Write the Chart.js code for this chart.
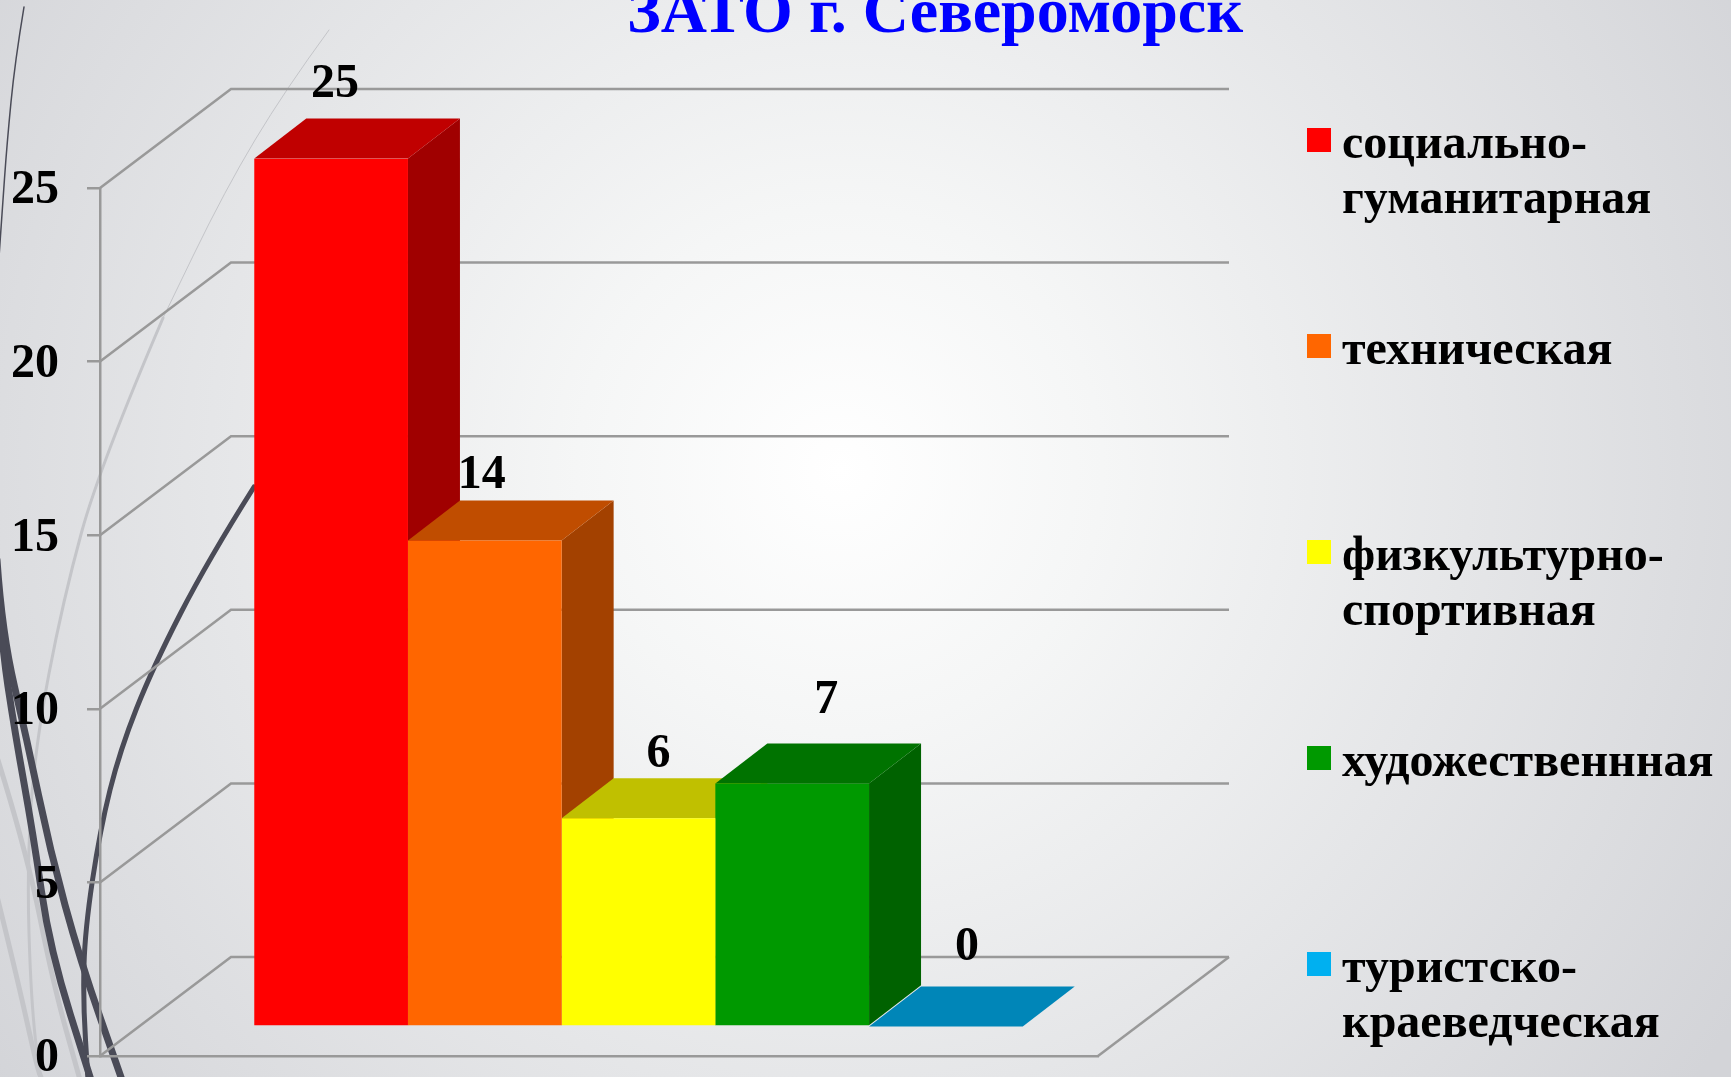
<!DOCTYPE html>
<html lang="ru">
<head>
<meta charset="utf-8">
<title>ЗАТО г. Североморск</title>
<script src="https://cdn.jsdelivr.net/npm/chart.js@4/dist/chart.umd.min.js"></script>
<style>
  html, body { margin: 0; padding: 0; overflow: hidden; background: #e6e7e9; }
  canvas { display: block; }
</style>
</head>
<body>
<canvas id="chart" width="1731" height="1077"></canvas>
<script>
const chartTitle = "ЗАТО г. Североморск";
const categories = ["социально-гуманитарная", "техническая", "физкультурно-спортивная", "художественнная", "туристско-краеведческая"];
const legendLines = [["социально-", "гуманитарная"], ["техническая"], ["физкультурно-", "спортивная"], ["художественнная"], ["туристско-", "краеведческая"]];
const values = [25, 14, 6, 7, 0];
const yTicks = [0, 5, 10, 15, 20, 25];

const frontColors = ["#ff0000", "#ff6600", "#ffff00", "#009900", "#00b0f0"];
const topColors = ["#c00000", "#c04d00", "#c0c000", "#007300", "#0086b8"];
const sideColors = ["#a00000", "#a34100", "#a3a300", "#006200", "#0070a0"];

// the value labels were moved by hand in the original slide
const labelNudgeX = [4, -3, 20, 34, 21];
const labelNudgeY = [-74, -65, -64, -83, -79];

const serif = "'Liberation Serif', 'Times New Roman', serif";
const labelFont = "bold 48px " + serif;

// 3d look: floor depth and bar depth, bars stand in the middle of the floor
const floorDepth = { x: 131, y: -99 };
const barDepth = { x: 52, y: -40 };
const barShift = { x: 39.5, y: -29.5 };

// background wisps of the slide theme
const wisps = [
  { color: "#4a4b57", width: 1.5, pts: [[24, 7], [15, 61], [7, 143], [2, 214], [-4, 300]] },
  { color: "#c4c5c9", width: 1, pts: [[329, 30], [285, 90], [225, 190], [163, 318]] },
  { color: "#c4c5c9", width: 3, pts: [[163, 318], [100, 465], [63, 600], [35, 747], [27, 867], [31, 1000], [40, 1080]] },
  { color: "#c4c5c9", width: 5, pts: [[-2, 760], [27, 853], [53, 983], [80, 1080]] },
  { color: "#c4c5c9", width: 5, pts: [[-2, 900], [17, 977], [37, 1067], [42, 1080]] },
  { color: "#4a4b57", width: 5, pts: [[254, 487], [208, 560], [153, 667], [120, 750], [100, 830], [85, 930], [83, 1000], [88, 1080]] },
  { color: "#4a4b57", width: 7, pts: [[-3, 560], [2, 633], [27, 740], [50, 850], [80, 960], [122, 1080]] },
  { color: "#4a4b57", width: 7, pts: [[-3, 570], [1, 640], [15, 733], [33, 833], [50, 950], [91, 1080]] }
];

function smoothLine(ctx, pts) {
  ctx.beginPath();
  ctx.moveTo(pts[0][0], pts[0][1]);
  for (let i = 1; i < pts.length - 1; i++) {
    const mx = (pts[i][0] + pts[i + 1][0]) / 2;
    const my = (pts[i][1] + pts[i + 1][1]) / 2;
    ctx.quadraticCurveTo(pts[i][0], pts[i][1], mx, my);
  }
  const last = pts[pts.length - 1];
  ctx.lineTo(last[0], last[1]);
  ctx.stroke();
}

function polygon(ctx, color, pts) {
  ctx.fillStyle = color;
  ctx.beginPath();
  pts.forEach((p, i) => (i ? ctx.lineTo(p[0], p[1]) : ctx.moveTo(p[0], p[1])));
  ctx.closePath();
  ctx.fill();
}

const slidePlugin = {
  id: "slide",
  beforeDraw(chart) {
    const ctx = chart.ctx;
    const bg = ctx.createRadialGradient(840, 470, 0, 840, 470, 1050);
    bg.addColorStop(0, "#ffffff");
    bg.addColorStop(0.25, "#f5f6f6");
    bg.addColorStop(0.6, "#e5e6e8");
    bg.addColorStop(1, "#d3d4d8");
    ctx.fillStyle = bg;
    ctx.fillRect(0, 0, chart.width, chart.height);
    ctx.save();
    ctx.lineCap = "round";
    wisps.forEach(w => {
      ctx.strokeStyle = w.color;
      ctx.lineWidth = w.width;
      smoothLine(ctx, w.pts);
    });
    ctx.restore();
  },
  beforeDatasetsDraw(chart) {
    const ctx = chart.ctx;
    const area = chart.chartArea;
    const y = chart.scales.y;

    // walls and floor
    ctx.save();
    ctx.strokeStyle = "#999999";
    ctx.lineWidth = 2.5;
    yTicks.forEach(v => {
      const py = y.getPixelForValue(v);
      ctx.beginPath();
      ctx.moveTo(area.left, py);
      ctx.lineTo(area.left + floorDepth.x, py + floorDepth.y);
      ctx.lineTo(area.right + floorDepth.x, py + floorDepth.y);
      ctx.stroke();
    });
    ctx.beginPath();
    ctx.moveTo(area.right, area.bottom);
    ctx.lineTo(area.right + floorDepth.x, area.bottom + floorDepth.y);
    ctx.stroke();
    ctx.restore();

    // the library then draws the bar fronts inside this shift
    ctx.save();
    ctx.translate(barShift.x, barShift.y);
    chart.data.datasets.forEach((ds, i) => {
      const bar = chart.getDatasetMeta(i).data[0];
      const l = bar.x - bar.width / 2;
      const r = bar.x + bar.width / 2;
      const dx = barDepth.x, dy = barDepth.y;
      polygon(ctx, sideColors[i], [[r, bar.y], [r + dx, bar.y + dy], [r + dx, bar.base + dy], [r, bar.base]]);
      polygon(ctx, topColors[i], [[l, bar.y], [l + dx, bar.y + dy], [r + dx, bar.y + dy], [r, bar.y]]);
    });
  },
  afterDatasetsDraw(chart) {
    const ctx = chart.ctx;
    ctx.restore();

    // value labels
    ctx.save();
    ctx.font = labelFont;
    ctx.fillStyle = "#000000";
    ctx.textAlign = "center";
    ctx.textBaseline = "middle";
    chart.data.datasets.forEach((ds, i) => {
      const bar = chart.getDatasetMeta(i).data[0];
      const px = bar.x + barShift.x + labelNudgeX[i];
      const py = bar.y + barShift.y + labelNudgeY[i];
      ctx.fillText(String(ds.data[0]), px, py);
    });
    ctx.restore();
  },
  afterDraw(chart) {
    const ctx = chart.ctx;
    ctx.save();

    ctx.fillStyle = "#0000ff";
    ctx.font = "bold 64px " + serif;
    ctx.textAlign = "center";
    ctx.textBaseline = "alphabetic";
    ctx.fillText(chartTitle, 935, 32);

    // legend, same step for one line and two line entries
    ctx.textAlign = "left";
    ctx.font = "bold 48px " + serif;
    legendLines.forEach((lines, i) => {
      const top = 128 + i * 206;
      ctx.fillStyle = frontColors[i];
      ctx.fillRect(1307, top, 24, 24);
      ctx.fillStyle = "#000000";
      lines.forEach((line, j) => ctx.fillText(line, 1342, top + 30 + j * 55));
    });
    ctx.restore();
  }
};

new Chart(document.getElementById("chart"), {
  type: "bar",
  data: {
    labels: [""],
    datasets: categories.map((name, i) => ({
      label: name,
      data: [values[i]],
      backgroundColor: frontColors[i],
      borderWidth: 0
    }))
  },
  options: {
    responsive: false,
    animation: false,
    layout: { padding: { left: 0, top: 188, right: 633, bottom: 21 } },
    datasets: { bar: { barPercentage: 1, categoryPercentage: 0.77 } },
    plugins: {
      legend: { display: false },
      title: { display: false },
      tooltip: { enabled: false }
    },
    scales: {
      x: {
        afterFit(scale) { scale.height = 0; },
        grid: { display: false },
        border: { color: "#999999", width: 2.5 },
        ticks: { display: false }
      },
      y: {
        min: 0,
        max: 25,
        afterFit(scale) {
          scale.width = 100;
          scale.paddingTop = 0;
          scale.paddingBottom = 0;
          // tick numbers sit a bit lower than canvas "middle" puts them
          if (!scale.labelsMoved) {
            const drawLabels = scale.drawLabels;
            scale.drawLabels = function (area) {
              this.ctx.save();
              this.ctx.translate(0, 3);
              drawLabels.call(this, area);
              this.ctx.restore();
            };
            scale.labelsMoved = true;
          }
        },
        afterBuildTicks(scale) { scale.ticks = yTicks.map(v => ({ value: v })); },
        grid: { drawOnChartArea: false, tickLength: 13, color: "#999999", lineWidth: 2.5 },
        border: { color: "#999999", width: 2.5 },
        ticks: {
          padding: 28,
          color: "#000000",
          font: { family: serif, size: 48, weight: "bold" }
        }
      }
    }
  },
  plugins: [slidePlugin]
});
</script>
</body>
</html>
